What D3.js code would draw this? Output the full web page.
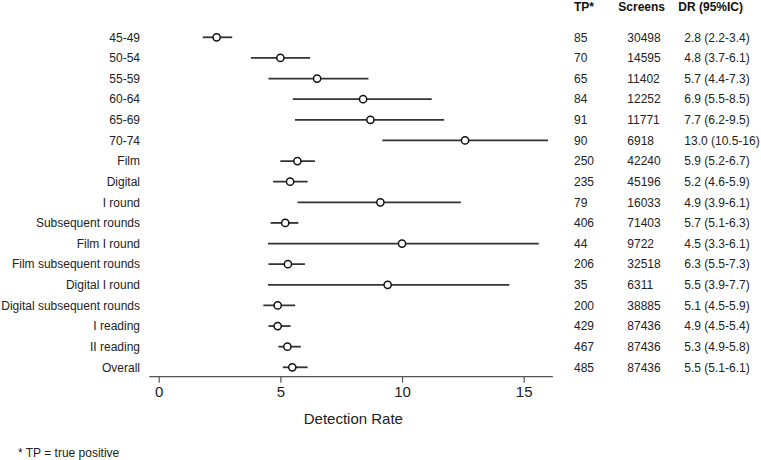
<!DOCTYPE html>
<html>
<head>
<meta charset="utf-8">
<script src="https://cdn.jsdelivr.net/npm/d3@7"></script>
<style>
  body { margin: 0; background: #fff; }
  svg { font-family: "Liberation Sans", Arial, sans-serif; }
</style>
</head>
<body>
<div id="forest_plot"></div>
<script>
// rows, top to bottom
let categories = ["45-49", "50-54", "55-59", "60-64", "65-69", "70-74", "Film", "Digital",
                  "I round", "Subsequent rounds", "Film I round", "Film subsequent rounds",
                  "Digital I round", "Digital subsequent rounds", "I reading", "II reading", "Overall"]

// plotted estimate and interval
let point_values = [2.38, 5.0, 6.51, 8.40, 8.70, 12.59, 5.70, 5.40, 9.11, 5.20, 10.0, 5.31, 9.41, 4.89, 4.89, 5.29, 5.49]
let lower_values = [1.81, 3.79, 4.51, 5.51, 5.60, 9.19, 5.0, 4.70, 5.71, 4.60, 4.49, 4.51, 4.49, 4.30, 4.51, 4.92, 5.10]
let upper_values = [3.02, 6.22, 8.62, 11.22, 11.73, 16.0, 6.42, 6.12, 12.42, 5.74, 15.62, 6.01, 14.41, 5.61, 5.42, 5.84, 6.12]

// table columns
let tp_values = ["85", "70", "65", "84", "91", "90", "250", "235", "79", "406", "44", "206", "35", "200", "429", "467", "485"]
let screens_values = ["30498", "14595", "11402", "12252", "11771", "6918", "42240", "45196", "16033",
                      "71403", "9722", "32518", "6311", "38885", "87436", "87436", "87436"]
let dr_values = ["2.8 (2.2-3.4)", "4.8 (3.7-6.1)", "5.7 (4.4-7.3)", "6.9 (5.5-8.5)", "7.7 (6.2-9.5)",
                 "13.0 (10.5-16)", "5.9 (5.2-6.7)", "5.2 (4.6-5.9)", "4.9 (3.9-6.1)", "5.7 (5.1-6.3)",
                 "4.5 (3.3-6.1)", "6.3 (5.5-7.3)", "5.5 (3.9-7.7)", "5.1 (4.5-5.9)", "4.9 (4.5-5.4)",
                 "5.3 (4.9-5.8)", "5.5 (5.1-6.1)"]
let table_headers = ["TP*", "Screens", "DR (95%IC)"]
let x_ticks = [0, 5, 10, 15]

let w = 761
let h = 460

let svg = d3.select("#forest_plot")
            .append("svg")
            .attr("width", w)
            .attr("height", h)

let x = d3.scaleLinear()
          .domain([0, 15])
          .range([158.7, 523.7])

let y = d3.scalePoint()
          .domain(categories)
          .range([37.3, 367.3])

// axis
let axis_y = 376.7
let x_axis = d3.axisBottom(x)
               .tickValues(x_ticks)
               .tickSize(6)
               .tickSizeOuter(0)
               .tickPadding(4)
let g_axis = svg.append("g")
                .attr("transform", "translate(0," + axis_y + ")")
                .call(x_axis)
g_axis.select(".domain").remove()
g_axis.append("line")
      .attr("x1", x(-0.39))
      .attr("x2", x(16.2))
      .attr("y1", 0)
      .attr("y2", 0)
      .attr("stroke", "#555")
      .attr("stroke-width", 1.3)
g_axis.selectAll(".tick line")
      .attr("stroke", "#555")
      .attr("stroke-width", 1.2)
g_axis.selectAll(".tick text")
      .attr("fill", "#222")
      .style("font-size", "15px")
      .style("font-family", "Liberation Sans, Arial, sans-serif")

svg.append("text")
   .attr("x", x(8))
   .attr("y", 424)
   .attr("text-anchor", "middle")
   .attr("fill", "#222")
   .style("font-size", "15px")
   .text("Detection Rate")

// row labels
svg.selectAll(".row_label")
   .data(categories)
   .enter()
   .append("text")
   .attr("class", "row_label")
   .attr("x", 140)
   .attr("y", d => y(d))
   .attr("dy", "0.35em")
   .attr("text-anchor", "end")
   .attr("fill", "#222")
   .style("font-size", "12px")
   .text(d => d)

// intervals
svg.selectAll(".ci_line")
   .data(categories)
   .enter()
   .append("line")
   .attr("class", "ci_line")
   .attr("x1", (d, i) => x(lower_values[i]))
   .attr("x2", (d, i) => x(upper_values[i]))
   .attr("y1", d => y(d))
   .attr("y2", d => y(d))
   .attr("stroke", "#333")
   .attr("stroke-width", 1.8)

// estimates
svg.selectAll(".est_point")
   .data(categories)
   .enter()
   .append("circle")
   .attr("class", "est_point")
   .attr("cx", (d, i) => x(point_values[i]))
   .attr("cy", d => y(d))
   .attr("r", 3.6)
   .attr("fill", "#fff")
   .attr("stroke", "#111")
   .attr("stroke-width", 1.5)

// table
let col_x = [574, 627.3, 684.3]
let head_x = [574, 618.3, 678.3]
let columns = [tp_values, screens_values, dr_values]

svg.selectAll(".table_head")
   .data(table_headers)
   .enter()
   .append("text")
   .attr("class", "table_head")
   .attr("x", (d, i) => head_x[i])
   .attr("y", 10.5)
   .attr("fill", "#111")
   .style("font-size", "12px")
   .style("font-weight", "bold")
   .text(d => d)

columns.forEach(function(col, c){
  svg.selectAll(".table_col" + c)
     .data(col)
     .enter()
     .append("text")
     .attr("class", "table_col" + c)
     .attr("x", col_x[c])
     .attr("y", (d, i) => y(categories[i]))
     .attr("dy", "0.35em")
     .attr("fill", "#222")
     .style("font-size", "12px")
     .text(d => d)
})

// footnote
svg.append("text")
   .attr("x", 18)
   .attr("y", 457)
   .attr("fill", "#222")
   .style("font-size", "12px")
   .text("* TP = true positive")
</script>
</body>
</html>
